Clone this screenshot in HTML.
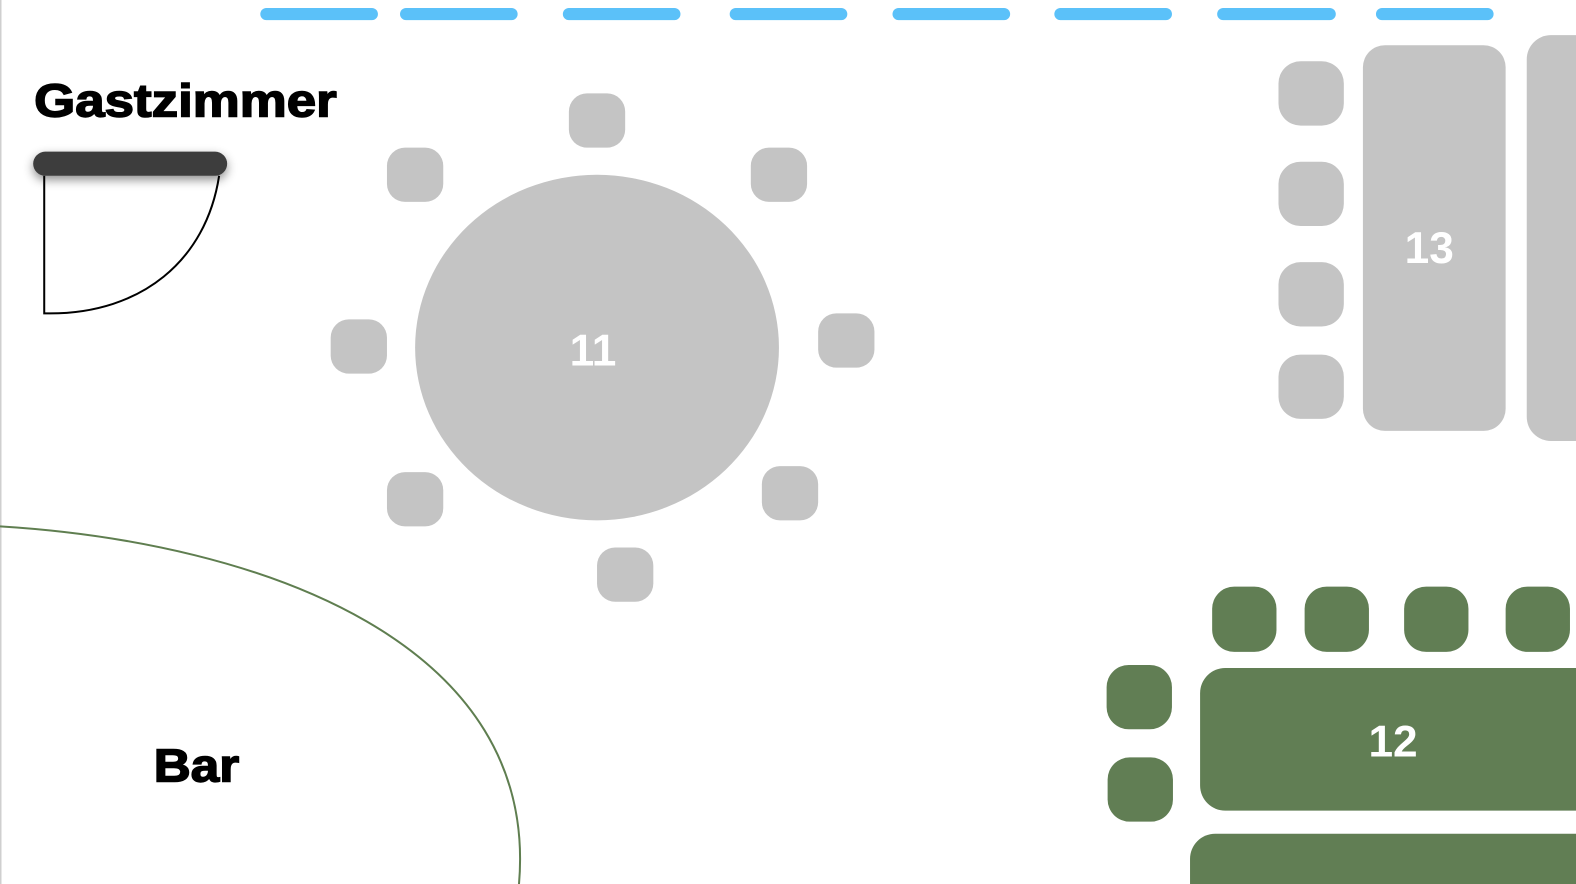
<!DOCTYPE html>
<html><head><meta charset="utf-8"><style>
html,body{margin:0;padding:0;background:#fff;}
svg{display:block;}
text{font-family:"Liberation Sans",sans-serif;font-weight:bold;}
</style></head><body>
<svg width="1576" height="884" viewBox="0 0 1576 884">
<defs><filter id="sh" x="-20%" y="-100%" width="140%" height="400%"><feDropShadow dx="0" dy="4" stdDeviation="5" flood-color="#000" flood-opacity="0.45"/></filter></defs>
<line x1="0.5" y1="0" x2="0.5" y2="884" stroke="#cfcfcf" stroke-width="2"/>
<g transform="scale(1.0051,1.0045)">
<g stroke="#5bc1f9" stroke-width="12" stroke-linecap="round">
<line x1="265" y1="14" x2="370" y2="14"/><line x1="404" y1="14" x2="509" y2="14"/>
<line x1="566" y1="14" x2="671" y2="14"/><line x1="732" y1="14" x2="837" y2="14"/>
<line x1="894" y1="14" x2="999" y2="14"/><line x1="1055" y1="14" x2="1160" y2="14"/>
<line x1="1217" y1="14" x2="1323" y2="14"/><line x1="1375" y1="14" x2="1480" y2="14"/>
</g>
<text x="34" y="116" font-size="46" stroke="#000" stroke-width="1.5" textLength="301" lengthAdjust="spacingAndGlyphs">Gastzimmer</text>
<g>
<path d="M44,175 L44,312 L50,312 C140,312 205,260 218,175" fill="none" stroke="#000" stroke-width="2"/>
<rect x="33" y="151" width="193" height="24" rx="12" fill="#3c3c3c" filter="url(#sh)"/>
</g>
<path d="M0,524 C260,540 540,640 516,884" fill="none" stroke="#5f7e50" stroke-width="2"/>
<text x="153" y="778" font-size="46" stroke="#000" stroke-width="1.5" textLength="85" lengthAdjust="spacingAndGlyphs">Bar</text>
<g fill="#c4c4c4">
<ellipse cx="594" cy="346" rx="181" ry="172"/>
<rect x="566" y="93" width="56" height="54" rx="18"/><rect x="385" y="147" width="56" height="54" rx="18"/>
<rect x="747" y="147" width="56" height="54" rx="18"/><rect x="329" y="318" width="56" height="54" rx="18"/>
<rect x="814" y="312" width="56" height="54" rx="18"/><rect x="385" y="470" width="56" height="54" rx="18"/>
<rect x="758" y="464" width="56" height="54" rx="18"/><rect x="594" y="545" width="56" height="54" rx="18"/>
</g>
<text x="590" y="364" font-size="44" fill="#fff" text-anchor="middle">11</text>
<g fill="#c4c4c4">
<rect x="1272" y="61" width="65" height="64" rx="22"/><rect x="1272" y="161" width="65" height="64" rx="22"/>
<rect x="1272" y="261" width="65" height="64" rx="22"/><rect x="1272" y="353" width="65" height="64" rx="22"/>
<rect x="1356" y="45" width="142" height="384" rx="22"/>
<rect x="1519" y="35" width="80" height="404" rx="24"/>
</g>
<text x="1422" y="262" font-size="44" fill="#fff" text-anchor="middle">13</text>
<g fill="#617e54">
<rect x="1206" y="584" width="64" height="65" rx="22"/><rect x="1298" y="584" width="64" height="65" rx="22"/>
<rect x="1397" y="584" width="64" height="65" rx="22"/><rect x="1498" y="584" width="64" height="65" rx="22"/>
<rect x="1101" y="662" width="65" height="64" rx="22"/><rect x="1102" y="754" width="65" height="64" rx="22"/>
<rect x="1194" y="665" width="420" height="142" rx="25"/>
<rect x="1184" y="830" width="430" height="90" rx="25"/>
</g>
<text x="1386" y="753" font-size="44" fill="#fff" text-anchor="middle">12</text>
</g>
</svg>
</body></html>
